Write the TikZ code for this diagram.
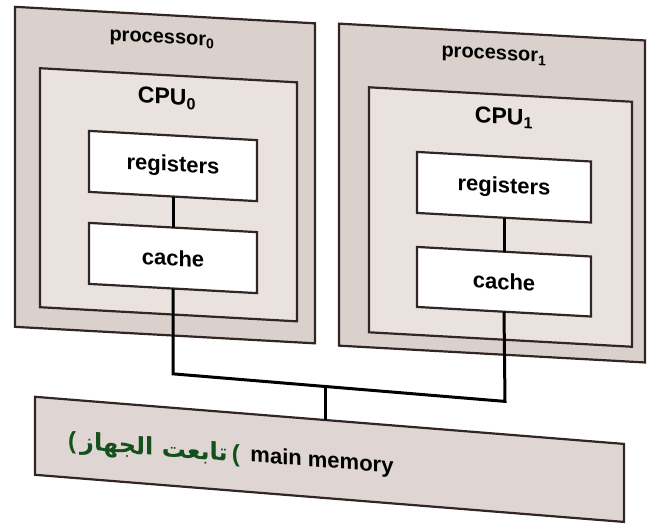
\documentclass[tikz,border=0pt]{standalone}
\usepackage{fontspec}
\setmainfont{Liberation Sans}
\newfontfamily\arabicfont[Script=Arabic]{DejaVu Sans}
\TeXXeTstate=1
\definecolor{paper}{RGB}{218,208,204}
\definecolor{cpufill}{RGB}{233,226,223}
\definecolor{memfill}{RGB}{223,213,210}
\definecolor{edge}{RGB}{50,38,36}
\definecolor{ink}{RGB}{20,80,28}
\begin{document}
\begin{tikzpicture}[x=1pt,y=1pt,
  procbox/.style={draw=edge,line width=2.2pt,fill=paper,inner sep=0pt,outer sep=0pt,anchor=north west},
  cpubox/.style={draw=edge,line width=2.2pt,fill=cpufill,inner sep=0pt,outer sep=0pt,anchor=north west},
  unitbox/.style={draw=edge,line width=2.2pt,fill=white,inner sep=0pt,outer sep=0pt,anchor=north west},
  membox/.style={draw=edge,line width=2.2pt,fill=memfill,inner sep=0pt,outer sep=0pt,anchor=north west},
  lbl/.style={font=\bfseries\fontsize{22}{26}\selectfont,inner sep=0pt,text=black},
  plbl/.style={font=\bfseries\fontsize{20}{24}\selectfont,inner sep=0pt,text=black},
  clbl/.style={font=\bfseries\fontsize{23}{27}\selectfont,inner sep=0pt,text=black},
  wire/.style={draw=black,line width=3pt,line cap=butt,line join=miter}]
\fill[white] (0,0) rectangle (648,-525);
\useasboundingbox (0,0) rectangle (648,-525);
% upper part (processors)
\begin{scope}[yslant=-0.055,transform shape]
  \node[procbox,minimum width=300pt,minimum height=320pt] (p0) at (15,-6) {};
  \node[procbox,minimum width=306pt,minimum height=322pt] (p1) at (339,-5) {};
  \node[cpubox,minimum width=257pt,minimum height=239pt] (cpu0) at (40,-66) {};
  \node[cpubox,minimum width=263pt,minimum height=245pt] (cpu1) at (369,-67) {};
  \node[unitbox,minimum width=168pt,minimum height=61pt] (r0) at (89,-126) {};
  \node[unitbox,minimum width=168pt,minimum height=61pt] (c0) at (89,-218) {};
  \node[unitbox,minimum width=174pt,minimum height=61pt] (r1) at (417,-129) {};
  \node[unitbox,minimum width=174pt,minimum height=60pt] (c1) at (417,-224) {};
  \node[plbl] (p0l) at (162,-31) {processor\textsubscript{0}};
  \node[plbl] (p1l) at (494,-29) {processor\textsubscript{1}};
  \node[clbl] (cpu0l) at (167,-89) {CPU\textsubscript{0}};
  \node[clbl] (cpu1l) at (504,-90) {CPU\textsubscript{1}};
  \node[lbl] (r0l) at (r0.center) {registers};
  \node[lbl] (c0l) at (c0.center) {cache};
  \node[lbl] (r1l) at (r1.center) {registers};
  \node[lbl] (c1l) at (c1.center) {cache};
\end{scope}
% lower part (bus and memory)
\begin{scope}[yslant=-0.08,transform shape]
  \node[membox,minimum width=589pt,minimum height=78pt] (mem) at (35,-394) {};
  \coordinate (busL) at (173,-360);
  \coordinate (busR) at (505,-361);
  \coordinate (busM) at (325,-360.5);
  \node[lbl] (meml) at (322,-436) {main memory};
  \node[inner sep=0pt,text=ink,font=\bfseries\fontsize{24}{28}\selectfont] (note) at (154,-437) {(\,{\arabicfont\bfseries\beginR تابعت الجهاز\endR}\,(};
\end{scope}
\draw[wire] (r0.south) -- (c0.north);
\draw[wire] (r1.south) -- (c1.north);
\draw[wire] (c0.south) -- (busL) -- (busR) -- (c1.south);
\draw[wire] (busM) -- (busM |- mem.north);
\end{tikzpicture}
\end{document}
